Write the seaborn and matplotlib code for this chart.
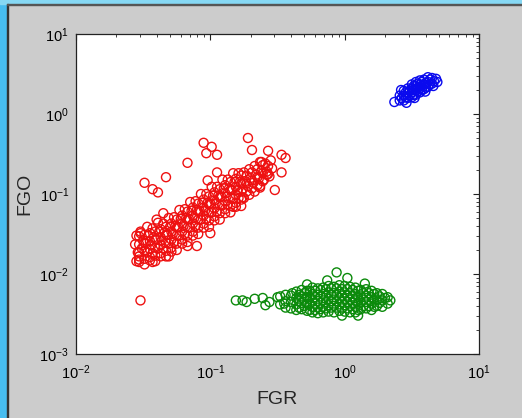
import numpy as np
import pandas as pd
import matplotlib
matplotlib.use('Agg')
import matplotlib.pyplot as plt
from matplotlib.patches import Rectangle
import seaborn as sns

# values, stored as log10 of FGR / FGO
red_fgr_log = [
    -1.55, -1.56, -1.54, -1.55,
    -1.52, -1.50, -1.51, -1.53, -1.49,
    -1.47, -1.46, -1.48, -1.47, -1.45,
    -1.43, -1.42, -1.44, -1.43, -1.41,
    -1.39, -1.38, -1.40, -1.39, -1.37,
    -1.35, -1.34, -1.36, -1.35, -1.33,
    -1.31, -1.30, -1.32, -1.31, -1.29,
    -1.27, -1.26, -1.28, -1.27, -1.25,
    -1.23, -1.22, -1.24, -1.23, -1.21,
    -1.19, -1.18, -1.20, -1.19, -1.17,
    -1.15, -1.14, -1.16, -1.15, -1.13,
    -1.11, -1.10, -1.12, -1.11, -1.09,
    -1.07, -1.06, -1.08, -1.07, -1.05,
    -1.03, -1.02, -1.04, -1.03, -1.01,
    -0.99, -0.98, -1.00, -0.99, -0.97,
    -0.95, -0.94, -0.96, -0.95, -0.93,
    -0.91, -0.90, -0.92, -0.91, -0.89,
    -0.87, -0.86, -0.88, -0.87, -0.85,
    -0.83, -0.82, -0.84, -0.83, -0.81,
    -0.79, -0.78, -0.80, -0.79, -0.77,
    -0.75, -0.74, -0.76, -0.75,
    -0.71, -0.70, -0.72, -0.71,
    -0.67, -0.66, -0.68, -0.67,
    -0.63, -0.62, -0.64, -0.63,
    -0.59, -0.58, -0.60,
    -0.55, -0.54, -0.56,
    # second, interleaved row of the dense band
    -1.53, -1.53, -1.53, -1.53,
    -1.49, -1.49, -1.49, -1.49,
    -1.45, -1.45, -1.45, -1.45,
    -1.41, -1.41, -1.41, -1.41,
    -1.37, -1.37, -1.37, -1.37,
    -1.33, -1.33, -1.33, -1.33,
    -1.29, -1.29, -1.29, -1.29,
    -1.25, -1.25, -1.25, -1.25,
    -1.21, -1.21, -1.21, -1.21,
    -1.17, -1.17, -1.17, -1.17,
    -1.13, -1.13, -1.13, -1.13,
    -1.09, -1.09, -1.09, -1.09,
    -1.05, -1.05, -1.05, -1.05,
    -1.01, -1.01, -1.01, -1.01,
    -0.97, -0.97, -0.97, -0.97,
    -0.93, -0.93, -0.93, -0.93,
    -0.89, -0.89, -0.89, -0.89,
    -0.85, -0.85, -0.85, -0.85,
    -0.81, -0.81, -0.81, -0.81,
    -0.77, -0.77, -0.77, -0.77,
    -0.73, -0.73, -0.73,
    -0.69, -0.69, -0.69,
    -0.65, -0.65, -0.65,
    -0.61, -0.61, -0.61,
    -0.57, -0.57,
    # scattered ones
    -1.05, -0.99, -1.03, -0.95, -1.17, -0.72, -0.57, -0.47, -0.44, -0.47,
    -1.49, -1.43, -1.39, -1.33, -0.52, -1.10, -1.00, -1.52, -0.83, -0.76,
    -0.63, -0.95, -1.02, -0.58, -0.69, -0.62, -1.53, -1.43, -1.31, -1.17,
    -1.52, -1.35, -1.40,
]
red_fgo_log = [
    -1.52, -1.63, -1.73, -1.84,
    -1.47, -1.58, -1.68, -1.78, -1.88,
    -1.41, -1.52, -1.62, -1.73, -1.83,
    -1.43, -1.54, -1.64, -1.74, -1.84,
    -1.36, -1.47, -1.57, -1.68, -1.78,
    -1.37, -1.48, -1.58, -1.68, -1.78,
    -1.30, -1.41, -1.51, -1.62, -1.72,
    -1.29, -1.40, -1.50, -1.60, -1.70,
    -1.20, -1.31, -1.41, -1.52, -1.62,
    -1.19, -1.30, -1.40, -1.50, -1.60,
    -1.10, -1.21, -1.31, -1.42, -1.52,
    -1.09, -1.20, -1.30, -1.40, -1.50,
    -1.00, -1.11, -1.21, -1.32, -1.42,
    -1.00, -1.11, -1.21, -1.31, -1.41,
    -0.91, -1.02, -1.12, -1.23, -1.33,
    -0.91, -1.02, -1.12, -1.22, -1.32,
    -0.82, -0.93, -1.03, -1.14, -1.24,
    -0.82, -0.93, -1.03, -1.13, -1.23,
    -0.74, -0.85, -0.95, -1.06, -1.16,
    -0.74, -0.85, -0.95, -1.05, -1.15,
    -0.73, -0.84, -0.94, -1.05,
    -0.69, -0.80, -0.90, -1.01,
    -0.65, -0.76, -0.86, -0.97,
    -0.60, -0.71, -0.81, -0.92,
    -0.62, -0.72, -0.82,
    -0.58, -0.68, -0.78,
    # second row
    -1.53, -1.63, -1.73, -1.82,
    -1.51, -1.61, -1.71, -1.81,
    -1.49, -1.59, -1.69, -1.79,
    -1.47, -1.57, -1.67, -1.77,
    -1.44, -1.54, -1.64, -1.74,
    -1.41, -1.51, -1.61, -1.71,
    -1.37, -1.47, -1.57, -1.67,
    -1.32, -1.42, -1.52, -1.62,
    -1.27, -1.37, -1.47, -1.57,
    -1.22, -1.32, -1.42, -1.52,
    -1.17, -1.27, -1.37, -1.47,
    -1.12, -1.22, -1.32, -1.42,
    -1.07, -1.17, -1.27, -1.37,
    -1.03, -1.13, -1.23, -1.33,
    -0.98, -1.08, -1.18, -1.28,
    -0.94, -1.04, -1.14, -1.24,
    -0.89, -0.99, -1.09, -1.19,
    -0.85, -0.95, -1.05, -1.15,
    -0.81, -0.91, -1.01, -1.11,
    -0.77, -0.87, -0.97, -1.07,
    -0.77, -0.87, -0.97,
    -0.73, -0.83, -0.93,
    -0.69, -0.79, -0.89,
    -0.64, -0.74, -0.84,
    -0.65, -0.75,
    # scattered ones
    -0.36, -0.41, -0.49, -0.51, -0.61, -0.30, -0.46, -0.51, -0.55, -0.73,
    -0.86, -0.94, -0.98, -0.79, -0.95, -1.65, -1.49, -2.33, -1.16, -1.04,
    -0.90, -0.73, -0.83, -0.76, -0.45, -0.60, -1.85, -1.85, -1.78, -1.65,
    -1.49, -1.24, -1.32,
]

green_fgr_log = [
    -0.81, -0.76, -0.73, -0.67, -0.61, -0.59, -0.56, -0.50, -0.45, -0.39, -0.28,
    -0.48, -0.48,
    -0.44, -0.44, -0.44,
    -0.40, -0.40, -0.40,
    -0.36, -0.36, -0.36, -0.36,
    -0.32, -0.32, -0.32, -0.32,
    -0.28, -0.28, -0.28, -0.28,
    -0.24, -0.24, -0.24, -0.24, -0.24,
    -0.20, -0.20, -0.20, -0.20, -0.20,
    -0.16, -0.16, -0.16, -0.16, -0.16,
    -0.12, -0.12, -0.12, -0.12, -0.12,
    -0.08, -0.08, -0.08, -0.08, -0.08,
    -0.04, -0.04, -0.04, -0.04, -0.04,
    0.00, 0.00, 0.00, 0.00, 0.00,
    0.04, 0.04, 0.04, 0.04, 0.04,
    0.08, 0.08, 0.08, 0.08, 0.08,
    0.12, 0.12, 0.12, 0.12,
    0.16, 0.16, 0.16, 0.16,
    0.20, 0.20, 0.20, 0.20,
    0.24, 0.24, 0.24,
    0.28, 0.28, 0.28,
    0.32, 0.32,
    # interleaved row
    -0.34, -0.34, -0.34,
    -0.30, -0.30, -0.30,
    -0.26, -0.26, -0.26, -0.26,
    -0.22, -0.22, -0.22, -0.22,
    -0.18, -0.18, -0.18, -0.18,
    -0.14, -0.14, -0.14, -0.14,
    -0.10, -0.10, -0.10, -0.10,
    -0.06, -0.06, -0.06, -0.06,
    -0.02, -0.02, -0.02, -0.02,
    0.02, 0.02, 0.02, 0.02,
    0.06, 0.06, 0.06, 0.06,
    0.10, 0.10, 0.10, 0.10,
    0.14, 0.14, 0.14,
    0.18, 0.18, 0.18,
    0.22, 0.22, 0.22,
    0.26, 0.26,
    0.30,
    -0.06, 0.02, -0.13, 0.15, 0.34, -0.02, 0.10,
]
green_fgo_log = [
    -2.33, -2.33, -2.35, -2.31, -2.30, -2.39, -2.35, -2.29, -2.37, -2.24, -2.13,
    -2.28, -2.38,
    -2.26, -2.34, -2.42,
    -2.27, -2.35, -2.43,
    -2.22, -2.30, -2.38, -2.45,
    -2.20, -2.28, -2.36, -2.44,
    -2.21, -2.29, -2.37, -2.46,
    -2.17, -2.25, -2.33, -2.41, -2.48,
    -2.18, -2.26, -2.34, -2.42, -2.49,
    -2.17, -2.25, -2.33, -2.41, -2.48,
    -2.15, -2.23, -2.31, -2.39, -2.47,
    -2.16, -2.24, -2.32, -2.40, -2.48,
    -2.14, -2.22, -2.30, -2.38, -2.46,
    -2.15, -2.23, -2.31, -2.39, -2.47,
    -2.16, -2.24, -2.32, -2.40, -2.48,
    -2.17, -2.25, -2.33, -2.41, -2.48,
    -2.20, -2.28, -2.36, -2.44,
    -2.19, -2.27, -2.35, -2.43,
    -2.21, -2.29, -2.37, -2.45,
    -2.24, -2.32, -2.40,
    -2.25, -2.33, -2.41,
    -2.29, -2.37,
    # interleaved row
    -2.26, -2.34, -2.42,
    -2.24, -2.32, -2.40,
    -2.21, -2.29, -2.37, -2.45,
    -2.21, -2.29, -2.37, -2.45,
    -2.20, -2.28, -2.36, -2.44,
    -2.19, -2.27, -2.35, -2.43,
    -2.18, -2.26, -2.34, -2.42,
    -2.18, -2.26, -2.34, -2.42,
    -2.19, -2.27, -2.35, -2.43,
    -2.19, -2.27, -2.35, -2.43,
    -2.20, -2.28, -2.36, -2.44,
    -2.21, -2.29, -2.37, -2.45,
    -2.24, -2.32, -2.40,
    -2.24, -2.32, -2.40,
    -2.25, -2.33, -2.41,
    -2.28, -2.36,
    -2.30,
    -1.98, -2.05, -2.08, -2.12, -2.33, -2.52, -2.52,
]

blue_fgr_log = [
    0.37,
    0.41, 0.41,
    0.44, 0.44, 0.44,
    0.47, 0.47, 0.47,
    0.50, 0.50, 0.50, 0.50,
    0.53, 0.53, 0.53, 0.53,
    0.56, 0.56, 0.56, 0.56,
    0.59, 0.59, 0.59,
    0.62, 0.62, 0.62,
    0.65, 0.65,
    0.68,
    0.425, 0.455, 0.455, 0.485, 0.485, 0.515, 0.515, 0.515,
    0.545, 0.545, 0.545, 0.575, 0.575, 0.575, 0.605, 0.605,
    0.635, 0.635, 0.665,
    0.69, 0.66, 0.52, 0.60, 0.46, 0.42,
]
blue_fgo_log = [
    0.15,
    0.17, 0.23,
    0.17, 0.23, 0.29,
    0.20, 0.26, 0.32,
    0.21, 0.27, 0.32, 0.37,
    0.24, 0.30, 0.35, 0.40,
    0.27, 0.32, 0.37, 0.42,
    0.31, 0.37, 0.43,
    0.34, 0.40, 0.46,
    0.38, 0.45,
    0.44,
    0.20, 0.21, 0.27, 0.23, 0.29, 0.24, 0.30, 0.35,
    0.28, 0.33, 0.38, 0.30, 0.35, 0.40, 0.33, 0.39,
    0.37, 0.43, 0.41,
    0.40, 0.35, 0.20, 0.28, 0.14, 0.30,
]

group_colors = {'red': '#ee1111', 'green': '#0b8a0b', 'blue': '#0a0aee'}

frames = []
for name, xs, ys in [('red', red_fgr_log, red_fgo_log),
                     ('green', green_fgr_log, green_fgo_log),
                     ('blue', blue_fgr_log, blue_fgo_log)]:
    frames.append(pd.DataFrame({'FGR': np.power(10.0, xs),
                                'FGO': np.power(10.0, ys),
                                'group': name}))
df = pd.concat(frames, ignore_index=True)

sns.set_style('white')
plt.rcParams['font.family'] = ['Liberation Sans', 'DejaVu Sans']
plt.rcParams['mathtext.fontset'] = 'custom'
plt.rcParams['mathtext.rm'] = 'Liberation Sans'
plt.rcParams['mathtext.it'] = 'Liberation Sans'

fig = plt.figure(figsize=(5.22, 4.18), dpi=100)
fig.patch.set_facecolor('#cccccc')
ax = fig.add_axes([76 / 522, 64 / 418, 403 / 522, 320 / 418])
ax.set_facecolor('white')

for name, sub in df.groupby('group', sort=False):
    sns.scatterplot(data=sub, x='FGR', y='FGO', ax=ax, s=42, marker='o',
                    color=group_colors[name], legend=False)
    coll = ax.collections[-1]
    coll.set_facecolor('none')
    coll.set_edgecolor(group_colors[name])
    coll.set_linewidth(1.0)

ax.set_xscale('log')
ax.set_yscale('log')
ax.set_xlim(1e-2, 1e1)
ax.set_ylim(1e-3, 1e1)
ax.set_xlabel('FGR', fontsize=14, labelpad=6)
ax.set_ylabel('FGO', fontsize=14, labelpad=4)
ax.tick_params(which='both', direction='in', top=True, right=True,
               colors='#222222', labelcolor='black', labelsize=10.5)
ax.tick_params(which='major', length=4, width=0.8)
ax.tick_params(which='minor', length=2.5, width=0.6)
ax.tick_params(axis='x', pad=7)
ax.tick_params(axis='y', pad=5)
for sp in ax.spines.values():
    sp.set_color('#222222')
    sp.set_linewidth(0.9)
    sp.set_visible(True)

# window frame around the plot
fig.add_artist(Rectangle((0, 0), 7 / 522, 1, transform=fig.transFigure,
                         color='#47bdf0', zorder=0))
fig.add_artist(Rectangle((0, 1 - 4 / 418), 1, 4 / 418, transform=fig.transFigure,
                         color='#86d8f4', zorder=0))
fig.add_artist(Rectangle((7 / 522, 0), 1.2 / 522, 1 - 4 / 418,
                         transform=fig.transFigure, color='#333333', zorder=0))
fig.add_artist(Rectangle((7 / 522, 1 - 5 / 418), 1, 1 / 418,
                         transform=fig.transFigure, color='#555555', zorder=0))

fig.savefig('out.png', dpi=100, facecolor=fig.get_facecolor())
